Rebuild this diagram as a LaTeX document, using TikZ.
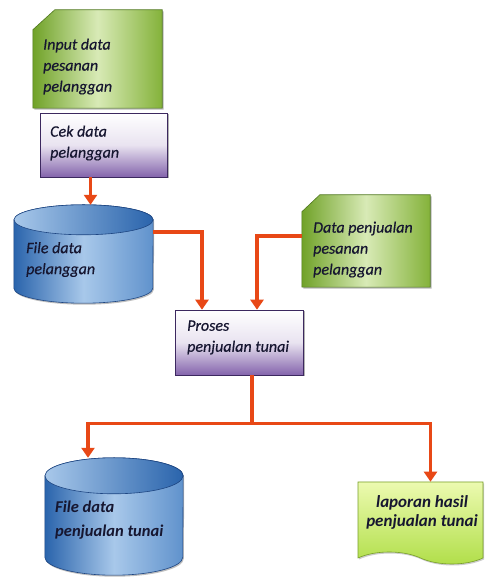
\documentclass[tikz,border=0pt]{standalone}
\usepackage{fontspec}
\setmainfont{Carlito}
\usetikzlibrary{shapes.geometric, shapes.symbols, arrows.meta, shadows}
\definecolor{CardDark}{RGB}{112, 162, 40}
\definecolor{CardLight}{RGB}{216, 234, 182}
\definecolor{CardMid}{RGB}{132, 178, 58}
\definecolor{CardEdge}{RGB}{80, 120, 30}
\definecolor{BoxPurple}{RGB}{132, 100, 172}
\definecolor{BoxEdge}{RGB}{60, 40, 95}
\definecolor{DrumDark}{RGB}{42, 100, 172}
\definecolor{DrumLight}{RGB}{168, 200, 234}
\definecolor{DrumMid}{RGB}{96, 146, 204}
\definecolor{DrumEdge}{RGB}{30, 70, 130}
\definecolor{ReportLight}{RGB}{236, 250, 176}
\definecolor{ReportDark}{RGB}{176, 222, 72}
\definecolor{ReportEdge}{RGB}{120, 160, 40}
\definecolor{FlowRed}{RGB}{232, 72, 22}
\definecolor{TextInk}{RGB}{22, 22, 48}

\begin{document}
\begin{tikzpicture}[x=1pt,y=1pt,
  slot/.style={rectangle, inner sep=0pt, draw=none},
  cardfill/.style={draw=CardEdge, line width=0.6pt, left color=CardDark,
    right color=CardMid, middle color=CardLight,
    drop shadow={shadow xshift=1.5pt, shadow yshift=-1.5pt, opacity=0.55}},
  procbox/.style={rectangle, draw=BoxEdge, line width=0.6pt, top color=white,
    bottom color=BoxPurple, middle color=BoxPurple!18,
    drop shadow={shadow xshift=1.5pt, shadow yshift=-1.5pt, opacity=0.6}},
  drumbody/.style={draw=DrumEdge, line width=0.6pt, left color=DrumDark,
    right color=DrumMid, middle color=DrumLight,
    drop shadow={shadow xshift=1pt, shadow yshift=-1.5pt, opacity=0.5}},
  drumtop/.style={draw=DrumEdge, line width=0.6pt, left color=DrumLight,
    right color=DrumDark},
  report/.style={tape, tape bend top=none, tape bend bottom=out and in,
    tape bend height=12pt, draw=ReportEdge, line width=0.6pt,
    top color=ReportLight, bottom color=ReportDark,
    drop shadow={shadow xshift=1pt, shadow yshift=-1.5pt, opacity=0.4}},
  txt/.style={anchor=west, align=left, inner sep=0pt, text=TextInk,
    font=\fontsize{16}{21}\selectfont\itshape\addfontfeatures{FakeBold=0.4}},
  boldtxt/.style={txt, font=\fontsize{16.5}{24}\selectfont\bfseries\itshape},
  flow/.style={draw=FlowRed, line width=3.5pt, -{Triangle[width=13pt,length=10pt]}},
  line/.style={draw=FlowRed, line width=3.5pt}]
  \path[use as bounding box] (0,0) rectangle (484,577);
  \fill[white] (0,0) rectangle (484,577);

  % shapes
  \node[slot, minimum width=129pt, minimum height=98pt] (inputpesan) at (97.5,518) {};
  \path[cardfill] ([yshift=-20pt]inputpesan.north west) -- ([xshift=22pt]inputpesan.north west)
    -- (inputpesan.north east) -- (inputpesan.south east) -- (inputpesan.south west) -- cycle;
  \node[procbox, minimum width=127pt, minimum height=64pt] (cekdata) at (103.5,432) {};

  \node[slot, minimum width=139pt, minimum height=98pt] (filepel) at (83.5,323) {};
  \path[drumbody] ([yshift=-15pt]filepel.north west) -- ([yshift=15pt]filepel.south west)
    arc[start angle=180, end angle=360, x radius=69.5pt, y radius=15pt]
    -- ([yshift=-15pt]filepel.north east)
    arc[start angle=0, end angle=180, x radius=69.5pt, y radius=15pt] -- cycle;
  \path[drumtop] ([yshift=-15pt]filepel.north) ellipse [x radius=69.5pt, y radius=15pt];

  \node[slot, minimum width=128pt, minimum height=92pt] (datajual) at (366,336) {};
  \path[cardfill] ([yshift=-17pt]datajual.north west) -- ([xshift=18pt]datajual.north west)
    -- (datajual.north east) -- (datajual.south east) -- (datajual.south west) -- cycle;
  \node[procbox, minimum width=128pt, minimum height=65pt] (proses) at (239,234.5) {};

  \node[slot, minimum width=138pt, minimum height=117pt] (filejual) at (114,60.5) {};
  \path[drumbody] ([yshift=-18pt]filejual.north west) -- ([yshift=18pt]filejual.south west)
    arc[start angle=180, end angle=360, x radius=69pt, y radius=18pt]
    -- ([yshift=-18pt]filejual.north east)
    arc[start angle=0, end angle=180, x radius=69pt, y radius=18pt] -- cycle;
  \path[drumtop] ([yshift=-18pt]filejual.north) ellipse [x radius=69pt, y radius=18pt];

  \node[report, minimum width=125pt, minimum height=82pt] (laporan) at (420.5,60) {};

  % labels
  \node[txt] (tinput) at (43,510.5) {Input data\\pesanan\\pelanggan};
  \node[txt] (tcek) at (50,434) {Cek data\\pelanggan};
  \node[txt] (tfilepel) at (26,317.5) {File data\\pelanggan};
  \node[txt] (tdatajual) at (313,327.5) {Data penjualan\\pesanan\\pelanggan};
  \node[txt] (tproses) at (187,239.5) {Proses\\penjualan tunai};
  \node[boldtxt] (tfilejual) at (55,57) {File data\\penjualan tunai};
  \node[boldtxt, anchor=center, align=center, font=\fontsize{17}{19}\selectfont\bfseries\itshape]
    (tlaporan) at (422,64.5) {laporan hasil\\penjualan tunai};

  % connectors
  \draw[flow] ([xshift=-13pt]cekdata.south) -- ([xshift=-13pt]cekdata.south |- filepel.north);
  \draw[flow] ([yshift=22pt]filepel.east) -| ([xshift=-37pt]proses.north);
  \draw[flow] ([yshift=5pt]datajual.west) -| ([xshift=18pt]proses.north);
  \coordinate (split) at ([xshift=13pt,yshift=-48pt]proses.south);
  \draw[line] ([xshift=13pt]proses.south) -- (split);
  \draw[flow] (split) -| ([xshift=-26pt]filejual.north);
  \draw[flow] (split) -| ([xshift=10pt]laporan.north);
\end{tikzpicture}
\end{document}
